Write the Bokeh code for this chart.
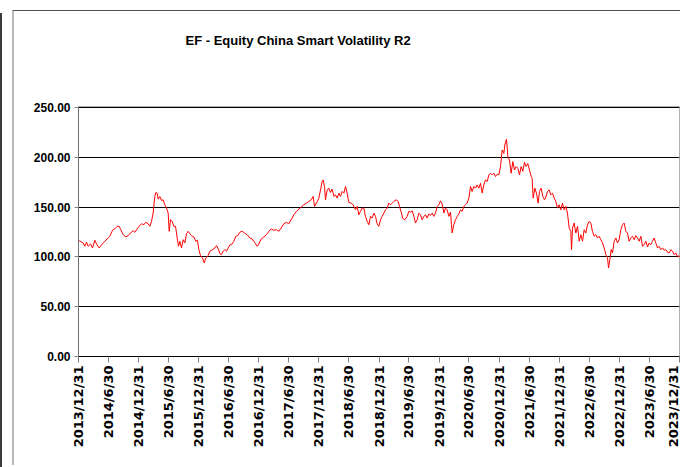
import math
from datetime import datetime
from bokeh.plotting import figure
from bokeh.models import Range1d, FixedTicker, NumeralTickFormatter, Title
from bokeh.embed import file_html
from bokeh.resources import INLINE

TITLE = "EF - Equity China Smart Volatility R2"

tick_labels = ["2013/12/31", "2014/6/30", "2014/12/31", "2015/6/30", "2015/12/31",
               "2016/6/30", "2016/12/31", "2017/6/30", "2017/12/31", "2018/6/30",
               "2018/12/31", "2019/6/30", "2019/12/31", "2020/6/30", "2020/12/31",
               "2021/6/30", "2021/12/31", "2022/6/30", "2022/12/31", "2023/6/30",
               "2023/12/31"]
y_ticks = [0, 50, 100, 150, 200, 250]

# dates as decimal years
years = [
    2014.000, 2014.022, 2014.078, 2014.105, 2014.133, 2014.161, 2014.200, 2014.233, 2014.272, 2014.300,
    2014.344, 2014.383, 2014.438, 2014.494, 2014.521, 2014.566, 2014.605, 2014.643, 2014.677, 2014.704,
    2014.743, 2014.788, 2014.826, 2014.865, 2014.910, 2014.937, 2014.965,
    2015.009, 2015.048, 2015.087, 2015.120, 2015.159, 2015.187, 2015.215, 2015.242, 2015.270, 2015.287,
    2015.309, 2015.326, 2015.353, 2015.381, 2015.409, 2015.436, 2015.464, 2015.492, 2015.509, 2015.531,
    2015.559, 2015.586, 2015.614, 2015.642, 2015.664, 2015.686, 2015.714, 2015.742, 2015.769, 2015.797,
    2015.825, 2015.852, 2015.880, 2015.919, 2015.952, 2015.980,
    2016.002, 2016.030, 2016.063, 2016.091, 2016.119, 2016.158, 2016.185, 2016.230, 2016.268, 2016.296,
    2016.324, 2016.352, 2016.379, 2016.407, 2016.435, 2016.463, 2016.490, 2016.518, 2016.557, 2016.585,
    2016.618, 2016.651, 2016.684, 2016.723, 2016.762, 2016.806, 2016.851, 2016.890, 2016.928, 2016.973,
    2017.001, 2017.039, 2017.084, 2017.128, 2017.167, 2017.206, 2017.250, 2017.295, 2017.333, 2017.372,
    2017.417, 2017.461, 2017.500, 2017.539, 2017.583, 2017.627, 2017.666, 2017.705, 2017.749, 2017.794,
    2017.832, 2017.871, 2017.905, 2017.927, 2017.960, 2017.999,
    2018.027, 2018.054, 2018.071, 2018.093, 2018.110, 2018.138, 2018.165, 2018.193, 2018.221, 2018.249,
    2018.276, 2018.304, 2018.332, 2018.359, 2018.387, 2018.415, 2018.443, 2018.470, 2018.498, 2018.537,
    2018.570, 2018.609, 2018.637, 2018.664, 2018.692, 2018.720, 2018.748, 2018.775, 2018.803, 2018.831,
    2018.859, 2018.886, 2018.914, 2018.942, 2018.969, 2018.997,
    2019.025, 2019.053, 2019.080, 2019.108, 2019.136, 2019.164, 2019.191, 2019.219, 2019.247, 2019.286,
    2019.319, 2019.341, 2019.374, 2019.397, 2019.430, 2019.469, 2019.496, 2019.524, 2019.552, 2019.580,
    2019.607, 2019.635, 2019.663, 2019.691, 2019.718, 2019.746, 2019.774, 2019.801, 2019.829, 2019.857,
    2019.885, 2019.912, 2019.940, 2019.968, 2019.996,
    2020.023, 2020.051, 2020.079, 2020.107, 2020.134, 2020.162, 2020.190, 2020.206, 2020.217, 2020.245,
    2020.273, 2020.301, 2020.328, 2020.356, 2020.384, 2020.412, 2020.439, 2020.467, 2020.495, 2020.523,
    2020.550, 2020.578, 2020.606, 2020.633, 2020.661, 2020.689, 2020.717, 2020.744, 2020.772, 2020.800,
    2020.828, 2020.855, 2020.883, 2020.911, 2020.938, 2020.966, 2020.994,
    2021.022, 2021.049, 2021.077, 2021.094, 2021.121, 2021.144, 2021.171, 2021.199, 2021.227, 2021.254,
    2021.282, 2021.310, 2021.338, 2021.365, 2021.393, 2021.421, 2021.448, 2021.476, 2021.504, 2021.532,
    2021.548, 2021.565, 2021.593, 2021.620, 2021.648, 2021.670, 2021.698, 2021.726, 2021.754, 2021.771,
    2021.804, 2021.831, 2021.859, 2021.887, 2021.915, 2021.942, 2021.970, 2021.998,
    2022.025, 2022.053, 2022.081, 2022.109, 2022.136, 2022.164, 2022.192, 2022.203, 2022.220, 2022.247,
    2022.275, 2022.303, 2022.331, 2022.358, 2022.386, 2022.414, 2022.441, 2022.469, 2022.497, 2022.525,
    2022.552, 2022.580, 2022.608, 2022.636, 2022.663, 2022.691, 2022.719, 2022.747, 2022.774, 2022.802,
    2022.819, 2022.841, 2022.863, 2022.885, 2022.913, 2022.941, 2022.968, 2022.996,
    2023.024, 2023.052, 2023.079, 2023.107, 2023.135, 2023.162, 2023.190, 2023.218, 2023.246, 2023.273,
    2023.301, 2023.329, 2023.357, 2023.384, 2023.412, 2023.440, 2023.468, 2023.495, 2023.523, 2023.551,
    2023.578, 2023.606, 2023.634, 2023.662, 2023.689, 2023.717, 2023.745, 2023.773, 2023.800, 2023.828,
    2023.856, 2023.884, 2023.911, 2023.939, 2023.967, 2023.994, 2024.000,
]
values = [
    117, 115.7, 114, 110.7, 114.7, 110.7, 113, 109, 116.7, 113,
    109, 112, 115.7, 119, 120.7, 126.7, 128.3, 130.7, 130.7, 127.3,
    122.3, 120, 121.3, 124, 126.3, 124.7, 127.3,
    130.7, 133.3, 132.3, 134.7, 133.3, 130.7, 135.7, 144, 160.7, 164.7,
    164, 158, 160.7, 156.7, 157.3, 152.3, 149, 144, 125.7, 137.3,
    135.7, 130.7, 130.7, 119, 110.7, 115.7, 109, 117.3, 114, 123.3,
    125.7, 123.3, 121.3, 120, 115.7, 116.7,
    107.3, 101.3, 99, 94, 99, 101.3, 105.7, 107.3, 109, 111.3,
    108, 103.3, 102.3, 105.7, 107.3, 105.7, 109, 112, 113, 115.7,
    120.7, 121.3, 124.7, 125.7, 124, 122.3, 119, 118, 114.7, 110.7,
    113, 118, 120, 122.3, 125.7, 128, 126.7, 127.3, 125.7, 129,
    133.3, 134.7, 133.3, 137.3, 142.3, 145.7, 148, 150, 152.3, 154,
    155.7, 157.3, 160.7, 150.7, 154, 159,
    167.3, 175.7, 177.3, 170.7, 157.3, 167.3, 169, 164.7, 168, 160.7,
    162.3, 159, 164, 160.7, 165.7, 164, 170.7, 164, 154.7, 154,
    152.3, 147.3, 150.7, 142.3, 145.7, 149, 149, 140.7, 135.7, 132.3,
    140.7, 139, 144, 140.7, 133.3, 130.7,
    137.3, 140.7, 144, 147.3, 149, 154, 152.3, 154, 155.7, 157.3,
    155.7, 150.7, 144, 138.3, 137.3, 140.7, 145.7, 145, 146.3, 140.7,
    134, 137.3, 144, 142.3, 137.3, 140.7, 142.3, 139, 143, 141.7,
    144, 140.7, 144, 150.7, 152.3,
    156.3, 153, 144, 149, 147.3, 140.7, 145, 132.3, 124, 132.3,
    137.3, 140.7, 143, 147.3, 145.7, 150.7, 152.3, 154, 159, 170.7,
    165.7, 170.7, 169, 172.3, 169, 174, 164, 172.3, 177.3, 175.7,
    182.3, 184, 182.3, 184, 180.7, 183, 182.3,
    190.7, 207.3, 204, 212.3, 218.3, 200.7, 197.3, 184, 195.7, 187.3,
    190.7, 189, 182.3, 190.7, 186, 195, 190.7, 193.7, 187.3, 180.7,
    179, 159, 169, 164, 154, 165.7, 169, 160.7, 157.3, 159,
    165.7, 167.3, 162.3, 164, 159, 155.7, 149, 152.3,
    147.3, 154, 147.3, 150.7, 144, 129, 125.7, 107.3, 129, 134,
    124, 130.7, 115.7, 122.3, 115.7, 127.3, 124, 132.3, 135.7, 134,
    125.7, 120.7, 122.3, 119, 120.7, 117.3, 114, 109, 102.3, 99,
    89, 97.3, 107.3, 104, 115.7, 119, 114, 117.3,
    127.3, 132.3, 134, 125.7, 124, 115.7, 119, 120.7, 117.3, 121.3,
    119, 115.7, 120.7, 110.7, 112.3, 115.7, 110, 114, 112.3, 115.7,
    119, 114, 109, 110.7, 107.3, 109, 106.7, 107.3, 104.7, 104,
    107.3, 105.7, 102.3, 104, 100, 101.3, 100,
]


def dec_year(s):
    d = datetime.strptime(s, "%Y/%m/%d")
    leap = d.year % 4 == 0 and (d.year % 100 != 0 or d.year % 400 == 0)
    return d.year + d.timetuple().tm_yday / (366 if leap else 365)


tick_pos = [round(dec_year(s), 6) for s in tick_labels]

p = figure(width=668, height=455, output_backend="svg", toolbar_location=None,
           x_range=Range1d(2014.0, 2024.0), y_range=Range1d(0, 251),
           min_border_left=64, min_border_right=3, min_border_top=95, min_border_bottom=110,
           title=TITLE)
p.styles = {"border-top": "1px solid #505050", "border-left": "2px solid #b8b8b8",
            "margin-left": "12px", "margin-top": "10px",
            "box-shadow": "-10px 3px 0 0 #ffffff, -12px 3px 0 0 #3c3c3c"}

p.title.text_font = "Liberation Sans"
p.title.text_font_size = "13px"
p.title.text_font_style = "bold"
p.title.text_color = "black"
p.title.align = "left"
p.title.offset = 107
p.title.standoff = 10

# blank gap between the title and the plotting area
gap = Title(text=" ", text_font_size="13px", text_color="white", standoff=37)
p.add_layout(gap, "above")

p.line(years, values, line_color="#ff0000", line_width=1)

p.xgrid.visible = False
p.ygrid.ticker = FixedTicker(ticks=y_ticks)
p.ygrid.grid_line_color = "black"
p.ygrid.grid_line_width = 1
p.outline_line_color = "#b0b0b0"

p.yaxis.ticker = FixedTicker(ticks=y_ticks)
p.yaxis.formatter = NumeralTickFormatter(format="0.00")
p.yaxis.axis_line_color = "#707070"
p.yaxis.major_tick_line_color = "#808080"
p.yaxis.major_tick_out = 4
p.yaxis.major_tick_in = 0
p.yaxis.minor_tick_line_color = None
p.yaxis.major_label_standoff = 4
p.yaxis.major_label_text_font = "Liberation Sans"
p.yaxis.major_label_text_font_style = "bold"
p.yaxis.major_label_text_font_size = "12px"
p.yaxis.major_label_text_color = "black"

xax = p.below[0]
xax.ticker = FixedTicker(ticks=tick_pos)
xax.major_label_overrides = {pos: lab for pos, lab in zip(tick_pos, tick_labels)}
xax.major_label_orientation = math.pi / 2
xax.axis_line_color = "black"
xax.major_tick_line_color = "#808080"
xax.major_tick_out = 6
xax.major_tick_in = 0
xax.minor_tick_line_color = None
xax.major_label_standoff = 3
xax.major_label_text_font = "DejaVu Sans"
xax.major_label_text_font_style = "bold"
xax.major_label_text_font_size = "13px"
xax.major_label_text_color = "black"

open("out.html", "w").write(file_html(p, INLINE))
